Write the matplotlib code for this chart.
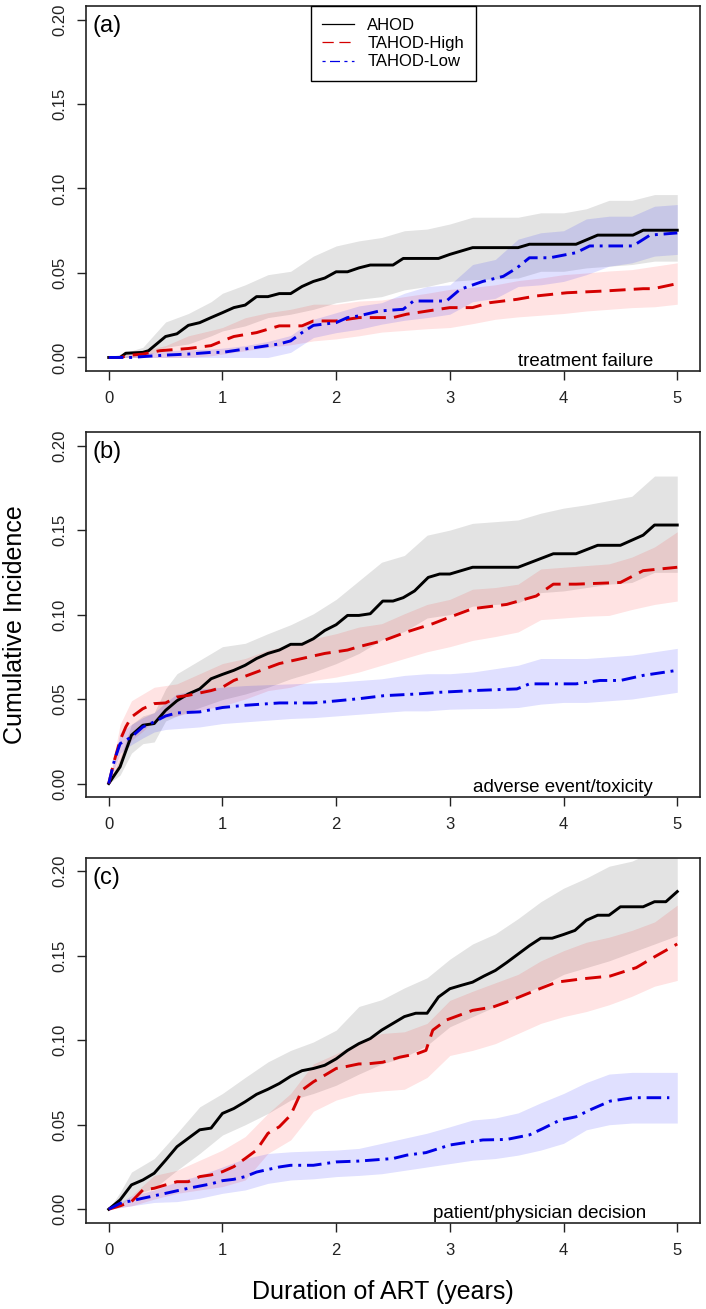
import numpy as np
import matplotlib
matplotlib.use("Agg")
import matplotlib.pyplot as plt
from matplotlib.lines import Line2D

plt.rcParams['font.family'] = ['Liberation Sans', 'DejaVu Sans']

# ---- data ----
series_names = ['AHOD', 'TAHOD-High', 'TAHOD-Low']
panel_tags = ['(a)', '(b)', '(c)']
panel_notes = ['treatment failure', 'adverse event/toxicity', 'patient/physician decision']
x_ticks = [0, 1, 2, 3, 4, 5]
y_ticks = [0.00, 0.05, 0.10, 0.15, 0.20]

# (a) treatment failure
a_ahod_t = [0, 0.1, 0.15, 0.3, 0.35, 0.5, 0.6, 0.7, 0.8, 0.9, 1.0, 1.1, 1.2, 1.3, 1.4, 1.5, 1.6, 1.7, 1.8,
            1.9, 2.0, 2.1, 2.2, 2.3, 2.5, 2.59, 2.9, 3.0, 3.2, 3.6, 3.7, 4.11, 4.3, 4.61, 4.7, 5.0]
a_ahod_y = [0, 0, 0.0025, 0.003, 0.004, 0.0124, 0.014, 0.019, 0.0206, 0.0236, 0.0265, 0.0295, 0.031,
            0.036, 0.036, 0.0378, 0.0378, 0.042, 0.045, 0.047, 0.0507, 0.0507, 0.053, 0.0547, 0.0547,
            0.0586, 0.0586, 0.061, 0.065, 0.065, 0.067, 0.067, 0.0724, 0.0724, 0.0753, 0.0753]
a_high_t = [0, 0.1, 0.2, 0.3, 0.45, 0.7, 0.9, 1.0, 1.1, 1.3, 1.5, 1.7, 1.8, 2.0, 2.2, 2.5, 2.62, 3.0,
            3.2, 3.35, 3.59, 3.76, 4.03, 4.35, 4.7, 4.79, 5.0]
a_high_y = [0, 0, 0.0014, 0.002, 0.004, 0.0053, 0.007, 0.0098, 0.0124, 0.0147, 0.0187, 0.0187, 0.0216,
            0.0216, 0.0236, 0.0236, 0.0256, 0.0295, 0.0295, 0.0324, 0.0344, 0.0364, 0.0383, 0.0393,
            0.0407, 0.0407, 0.0437]
a_low_t = [0, 0.2, 0.3, 0.5, 0.7, 0.9, 1.0, 1.1, 1.3, 1.5, 1.6, 1.7, 1.8, 2.0, 2.1, 2.2, 2.38, 2.59,
           2.68, 2.97, 3.09, 3.29, 3.47, 3.59, 3.7, 3.88, 4.11, 4.23, 4.61, 4.76, 5.0]
a_low_y = [0, 0, 0.0005, 0.0014, 0.002, 0.003, 0.003, 0.004, 0.006, 0.008, 0.0098, 0.0147, 0.019,
           0.0206, 0.0236, 0.0246, 0.0275, 0.0285, 0.0334, 0.0334, 0.0403, 0.045, 0.048, 0.053, 0.059,
           0.059, 0.062, 0.066, 0.066, 0.0724, 0.0737]
a_band_t = [0, 0.15, 0.3, 0.5, 0.7, 0.9, 1.0, 1.2, 1.4, 1.6, 1.8, 2.0, 2.2, 2.4, 2.6, 2.8, 3.0, 3.2,
            3.4, 3.6, 3.8, 4.0, 4.2, 4.4, 4.6, 4.8, 5.0]
a_ahod_hi = [0, 0.003, 0.006, 0.021, 0.026, 0.033, 0.038, 0.043, 0.049, 0.051, 0.060, 0.066, 0.069,
             0.071, 0.075, 0.076, 0.079, 0.083, 0.083, 0.083, 0.0856, 0.0856, 0.088, 0.093, 0.093,
             0.0964, 0.0964]
a_ahod_lo = [0, 0, 0, 0.006, 0.008, 0.0128, 0.0157, 0.0187, 0.0236, 0.0256, 0.0285, 0.0324, 0.0344,
             0.036, 0.040, 0.042, 0.045, 0.046, 0.0465, 0.047, 0.051, 0.051, 0.053, 0.054, 0.055,
             0.057, 0.057]
a_high_hi = [0, 0.002, 0.004, 0.007, 0.0128, 0.016, 0.0177, 0.0235, 0.0265, 0.0285, 0.0315, 0.0315,
             0.0334, 0.034, 0.036, 0.038, 0.0403, 0.0415, 0.043, 0.0455, 0.047, 0.049, 0.050, 0.0512,
             0.052, 0.054, 0.056]
a_high_lo = [0, 0, 0, 0, 0, 0.001, 0.002, 0.004, 0.006, 0.0075, 0.0098, 0.011, 0.0128, 0.015, 0.016,
             0.017, 0.0177, 0.020, 0.0226, 0.024, 0.025, 0.026, 0.0275, 0.0285, 0.0295, 0.030, 0.0315]
a_low_hi = [0, 0.001, 0.002, 0.004, 0.0045, 0.005, 0.0055, 0.007, 0.0095, 0.013, 0.0226, 0.0265,
            0.0305, 0.0324, 0.038, 0.042, 0.043, 0.055, 0.058, 0.070, 0.0738, 0.075, 0.082, 0.0836,
            0.0836, 0.0895, 0.0905]
a_low_lo = [0, 0, 0, 0, 0, 0, 0, 0, 0, 0.003, 0.0118, 0.0147, 0.0167, 0.0197, 0.022, 0.0236, 0.0256,
            0.033, 0.035, 0.042, 0.043, 0.045, 0.049, 0.054, 0.056, 0.060, 0.061]

# (b) adverse event/toxicity
b_ahod_t = [0, 0.1, 0.2, 0.3, 0.4, 0.5, 0.6, 0.7, 0.8, 0.9, 1.0, 1.1, 1.2, 1.3, 1.4, 1.5, 1.6, 1.7,
            1.8, 1.9, 2.0, 2.1, 2.2, 2.3, 2.41, 2.5, 2.59, 2.69, 2.81, 2.91, 3.0, 3.2, 3.6, 3.91, 4.11,
            4.3, 4.5, 4.7, 4.8, 5.0]
b_ahod_y = [0, 0.0099, 0.0286, 0.0345, 0.0355, 0.0433, 0.049, 0.053, 0.056, 0.062, 0.0646, 0.067,
            0.070, 0.074, 0.077, 0.079, 0.0824, 0.0824, 0.0857, 0.0906, 0.094, 0.0995, 0.0995, 0.1005,
            0.108, 0.108, 0.110, 0.114, 0.122, 0.124, 0.124, 0.128, 0.128, 0.136, 0.136, 0.141, 0.141,
            0.147, 0.153, 0.153]
b_high_t = [0, 0.05, 0.1, 0.15, 0.2, 0.3, 0.4, 0.5, 0.6, 0.7, 0.9, 1.0, 1.1, 1.3, 1.5, 1.7, 1.9, 2.1,
            2.2, 2.42, 2.62, 2.85, 3.0, 3.2, 3.5, 3.76, 3.91, 4.11, 4.5, 4.7, 5.0]
b_high_y = [0, 0.0138, 0.0256, 0.0335, 0.0394, 0.0443, 0.0473, 0.0477, 0.0512, 0.0522, 0.055, 0.057,
            0.061, 0.066, 0.071, 0.074, 0.077, 0.079, 0.081, 0.0847, 0.0897, 0.0946, 0.0985, 0.1035,
            0.106, 0.111, 0.118, 0.118, 0.119, 0.126, 0.128]
b_low_t = [0, 0.05, 0.1, 0.2, 0.3, 0.4, 0.5, 0.6, 0.8, 1.0, 1.2, 1.5, 1.8, 2.0, 2.2, 2.42, 2.71, 2.91,
           3.2, 3.59, 3.7, 4.11, 4.32, 4.5, 4.7, 5.0]
b_low_y = [0, 0.0138, 0.0236, 0.0276, 0.0335, 0.0365, 0.040, 0.0418, 0.0424, 0.045, 0.0463, 0.0477,
           0.0477, 0.0489, 0.0502, 0.052, 0.053, 0.054, 0.055, 0.056, 0.059, 0.059, 0.061, 0.061, 0.064,
           0.067]
b_band_t = [0, 0.1, 0.2, 0.3, 0.4, 0.5, 0.6, 0.8, 1.0, 1.2, 1.4, 1.6, 1.8, 2.0, 2.2, 2.4, 2.6, 2.8,
            3.0, 3.2, 3.4, 3.6, 3.8, 4.0, 4.2, 4.4, 4.6, 4.8, 5.0]
b_ahod_hi = [0, 0.015, 0.035, 0.040, 0.042, 0.056, 0.065, 0.073, 0.081, 0.083, 0.0887, 0.094, 0.1005,
             0.109, 0.120, 0.131, 0.135, 0.147, 0.150, 0.154, 0.155, 0.156, 0.160, 0.163, 0.165,
             0.1675, 0.170, 0.182, 0.182]
b_ahod_lo = [0, 0.005, 0.018, 0.0236, 0.0246, 0.037, 0.040, 0.045, 0.0497, 0.053, 0.057, 0.062, 0.066,
             0.071, 0.077, 0.085, 0.090, 0.098, 0.100, 0.105, 0.106, 0.107, 0.113, 0.114, 0.116, 0.118,
             0.119, 0.125, 0.125]
b_high_hi = [0, 0.035, 0.049, 0.053, 0.057, 0.058, 0.059, 0.065, 0.071, 0.074, 0.079, 0.082, 0.0857,
             0.0887, 0.0926, 0.0946, 0.1005, 0.106, 0.109, 0.115, 0.116, 0.118, 0.127, 0.128, 0.129,
             0.130, 0.134, 0.140, 0.149]
b_high_lo = [0, 0.012, 0.0256, 0.031, 0.0374, 0.039, 0.040, 0.0433, 0.046, 0.050, 0.055, 0.057, 0.061,
             0.063, 0.066, 0.070, 0.074, 0.078, 0.081, 0.0847, 0.087, 0.0897, 0.097, 0.098, 0.099,
             0.0995, 0.103, 0.106, 0.108]
b_low_hi = [0, 0.03, 0.035, 0.039, 0.042, 0.048, 0.053, 0.056, 0.057, 0.058, 0.0585, 0.059, 0.0595,
            0.060, 0.061, 0.062, 0.064, 0.065, 0.065, 0.066, 0.068, 0.070, 0.074, 0.074, 0.074, 0.075,
            0.076, 0.078, 0.080]
b_low_lo = [0, 0.018, 0.023, 0.027, 0.0305, 0.032, 0.0325, 0.0335, 0.0355, 0.0365, 0.0375, 0.0385,
            0.039, 0.040, 0.041, 0.042, 0.043, 0.043, 0.044, 0.0443, 0.0445, 0.045, 0.047, 0.048, 0.048,
            0.049, 0.050, 0.052, 0.054]

# (c) patient/physician decision
c_ahod_t = [0, 0.1, 0.2, 0.3, 0.4, 0.5, 0.6, 0.7, 0.8, 0.9, 1.0, 1.1, 1.2, 1.3, 1.4, 1.5, 1.6, 1.7,
            1.8, 1.9, 2.0, 2.1, 2.2, 2.3, 2.4, 2.5, 2.6, 2.7, 2.8, 2.9, 3.0, 3.1, 3.2, 3.3, 3.4, 3.5,
            3.6, 3.7, 3.8, 3.9, 4.0, 4.1, 4.2, 4.3, 4.4, 4.5, 4.6, 4.7, 4.8, 4.9, 5.0]
c_ahod_y = [0, 0.0055, 0.0144, 0.0173, 0.0213, 0.029, 0.037, 0.042, 0.047, 0.048, 0.0567, 0.0596,
            0.0636, 0.068, 0.071, 0.0744, 0.0787, 0.082, 0.0833, 0.0852, 0.089, 0.094, 0.098, 0.101,
            0.106, 0.110, 0.114, 0.116, 0.116, 0.1256, 0.1305, 0.1325, 0.1344, 0.138, 0.1413, 0.146,
            0.151, 0.156, 0.1604, 0.1604, 0.1626, 0.165, 0.171, 0.174, 0.174, 0.179, 0.179, 0.179,
            0.182, 0.182, 0.188]
c_high_t = [0, 0.1, 0.2, 0.3, 0.4, 0.5, 0.6, 0.7, 0.8, 0.9, 1.0, 1.1, 1.2, 1.3, 1.4, 1.5, 1.6, 1.7,
            1.8, 1.9, 2.0, 2.1, 2.2, 2.27, 2.41, 2.56, 2.71, 2.79, 2.85, 2.97, 3.2, 3.38, 3.5, 3.79,
            3.94, 4.17, 4.41, 4.64, 4.79, 5.0]
c_high_y = [0, 0.002, 0.0045, 0.0114, 0.0124, 0.0144, 0.0163, 0.0163, 0.0193, 0.0203, 0.0222, 0.0252,
            0.030, 0.035, 0.0449, 0.0488, 0.0557, 0.0705, 0.0754, 0.0793, 0.0833, 0.0846, 0.086,
            0.086, 0.087, 0.090, 0.092, 0.094, 0.106, 0.112, 0.1177, 0.1197, 0.1226, 0.1305, 0.1344,
            0.1364, 0.138, 0.143, 0.149, 0.157]
c_low_t = [0, 0.1, 0.2, 0.3, 0.5, 0.7, 0.9, 1.0, 1.1, 1.2, 1.3, 1.5, 1.6, 1.8, 2.0, 2.2, 2.5, 2.62,
           2.79, 3.0, 3.29, 3.5, 3.7, 3.82, 3.97, 4.11, 4.23, 4.41, 4.61, 4.93]
c_low_y = [0, 0.0035, 0.005, 0.0065, 0.0094, 0.0124, 0.015, 0.0169, 0.0177, 0.0193, 0.022, 0.025,
           0.026, 0.026, 0.028, 0.0285, 0.030, 0.032, 0.0335, 0.038, 0.041, 0.0413, 0.044, 0.0478,
           0.0528, 0.0547, 0.0587, 0.064, 0.066, 0.066]
c_band_t = [0, 0.1, 0.2, 0.4, 0.6, 0.8, 1.0, 1.2, 1.4, 1.6, 1.8, 2.0, 2.2, 2.4, 2.6, 2.8, 3.0, 3.2,
            3.4, 3.6, 3.8, 4.0, 4.2, 4.4, 4.6, 4.8, 5.0]
c_ahod_hi = [0, 0.01, 0.022, 0.030, 0.045, 0.0606, 0.0685, 0.078, 0.0872, 0.094, 0.099, 0.106, 0.120,
             0.124, 0.131, 0.137, 0.148, 0.157, 0.163, 0.172, 0.182, 0.190, 0.196, 0.203, 0.206,
             0.212, 0.218]
c_ahod_lo = [0, 0.002, 0.008, 0.0124, 0.023, 0.033, 0.0439, 0.050, 0.0567, 0.0646, 0.0685, 0.0734,
             0.080, 0.086, 0.090, 0.097, 0.108, 0.114, 0.120, 0.126, 0.132, 0.139, 0.143, 0.147, 0.152,
             0.157, 0.162]
c_high_hi = [0, 0.003, 0.008, 0.020, 0.023, 0.029, 0.035, 0.043, 0.0567, 0.0685, 0.086, 0.092, 0.099,
             0.104, 0.105, 0.110, 0.1236, 0.129, 0.134, 0.139, 0.147, 0.153, 0.158, 0.161, 0.165,
             0.170, 0.180]
c_high_lo = [0, 0.001, 0.002, 0.006, 0.0094, 0.0114, 0.0134, 0.0173, 0.033, 0.041, 0.058, 0.0646,
             0.0685, 0.070, 0.071, 0.078, 0.091, 0.094, 0.098, 0.104, 0.110, 0.114, 0.117, 0.121,
             0.126, 0.132, 0.1354]
c_low_hi = [0, 0.004, 0.008, 0.0114, 0.0163, 0.020, 0.025, 0.030, 0.033, 0.034, 0.0345, 0.035, 0.036,
            0.039, 0.042, 0.045, 0.0488, 0.0528, 0.054, 0.057, 0.063, 0.0685, 0.075, 0.080, 0.081,
            0.081, 0.081]
c_low_lo = [0, 0.001, 0.002, 0.004, 0.0045, 0.0065, 0.0094, 0.0114, 0.0153, 0.0173, 0.018, 0.0193,
            0.020, 0.021, 0.023, 0.025, 0.027, 0.029, 0.030, 0.032, 0.035, 0.039, 0.047, 0.050, 0.051,
            0.051, 0.051]

# ---- styling ----
line_colors = ['black', '#d40000', '#0000e6']
band_colors = ['black', 'red', 'blue']
band_alpha = [0.11, 0.11, 0.12]
dash_styles = [None, (0, (5.5, 2.8)), (0, (5.0, 2.0, 1.0, 2.0))]

fig = plt.figure(figsize=(7.06, 13.09), dpi=100)
ax_left, ax_width, ax_height = 0.1218, 0.8697, 0.2788
ax_bottoms = [0.7166, 0.3911, 0.0659]


def draw_panel(ax, band_t, lines, bands, tag, note, note_x):
    for (lo, hi), col, al in zip(bands, band_colors, band_alpha):
        ax.fill_between(band_t, lo, hi, color=col, alpha=al, linewidth=0)
    for (t, y), col, ls in zip(lines, line_colors, dash_styles):
        if ls is None:
            ax.plot(t, y, color=col, lw=2.1, solid_joinstyle='round')
        else:
            ax.plot(t, y, color=col, lw=2.1, linestyle=ls, dash_joinstyle='round')
    ax.set_xlim(-0.2, 5.2)
    ax.set_ylim(-0.008, 0.208)
    ax.set_xticks(x_ticks)
    ax.set_yticks(y_ticks)
    ax.set_yticklabels(['%.2f' % v for v in y_ticks], rotation=90, va='center')
    ax.tick_params(direction='out', length=6.5, width=1.0, labelsize=12, color='#222222',
                   labelcolor='#222222')
    ax.tick_params(axis='x', pad=8)
    ax.tick_params(axis='y', pad=7)
    for sp in ax.spines.values():
        sp.set_linewidth(1.2)
        sp.set_color('#222222')
    ax.text(0.011, 0.945, tag, transform=ax.transAxes, fontsize=17, ha='left', va='center')
    ax.text(note_x, -0.005, note, fontsize=13.5, ha='right', va='baseline')


panels = [
    (a_band_t, [(a_ahod_t, a_ahod_y), (a_high_t, a_high_y), (a_low_t, a_low_y)],
     [(a_ahod_lo, a_ahod_hi), (a_high_lo, a_high_hi), (a_low_lo, a_low_hi)], 4.785),
    (b_band_t, [(b_ahod_t, b_ahod_y), (b_high_t, b_high_y), (b_low_t, b_low_y)],
     [(b_ahod_lo, b_ahod_hi), (b_high_lo, b_high_hi), (b_low_lo, b_low_hi)], 4.785),
    (c_band_t, [(c_ahod_t, c_ahod_y), (c_high_t, c_high_y), (c_low_t, c_low_y)],
     [(c_ahod_lo, c_ahod_hi), (c_high_lo, c_high_hi), (c_low_lo, c_low_hi)], 4.73),
]

axes = []
for i, (band_t, lines, bands, nx) in enumerate(panels):
    ax = fig.add_axes([ax_left, ax_bottoms[i], ax_width, ax_height])
    draw_panel(ax, band_t, lines, bands, panel_tags[i], panel_notes[i], nx)
    axes.append(ax)

# legend with thin proxy lines, as in the original
handles = [
    Line2D([], [], color=line_colors[0], lw=0.9),
    Line2D([], [], color=line_colors[1], lw=0.9, linestyle=(0, (9, 4.5))),
    Line2D([], [], color=line_colors[2], lw=0.9, linestyle=(0, (2.5, 3.5, 8, 3.5))),
]
leg = axes[0].legend(handles, series_names, loc='upper left', bbox_to_anchor=(0.366, 1.0),
                     borderaxespad=0, fontsize=12, frameon=True, fancybox=False,
                     edgecolor='black', framealpha=1, handlelength=1.9, handletextpad=0.8,
                     labelspacing=0.2, borderpad=0.7)
leg.get_frame().set_linewidth(1.0)

fig.text(15 / 706, 1 - 625 / 1309, 'Cumulative Incidence', rotation=90, fontsize=18,
         ha='center', va='center')
fig.text(383 / 706, 1 - 1292 / 1309, 'Duration of ART (years)', fontsize=18,
         ha='center', va='center')

fig.savefig('out.png', dpi=100)
